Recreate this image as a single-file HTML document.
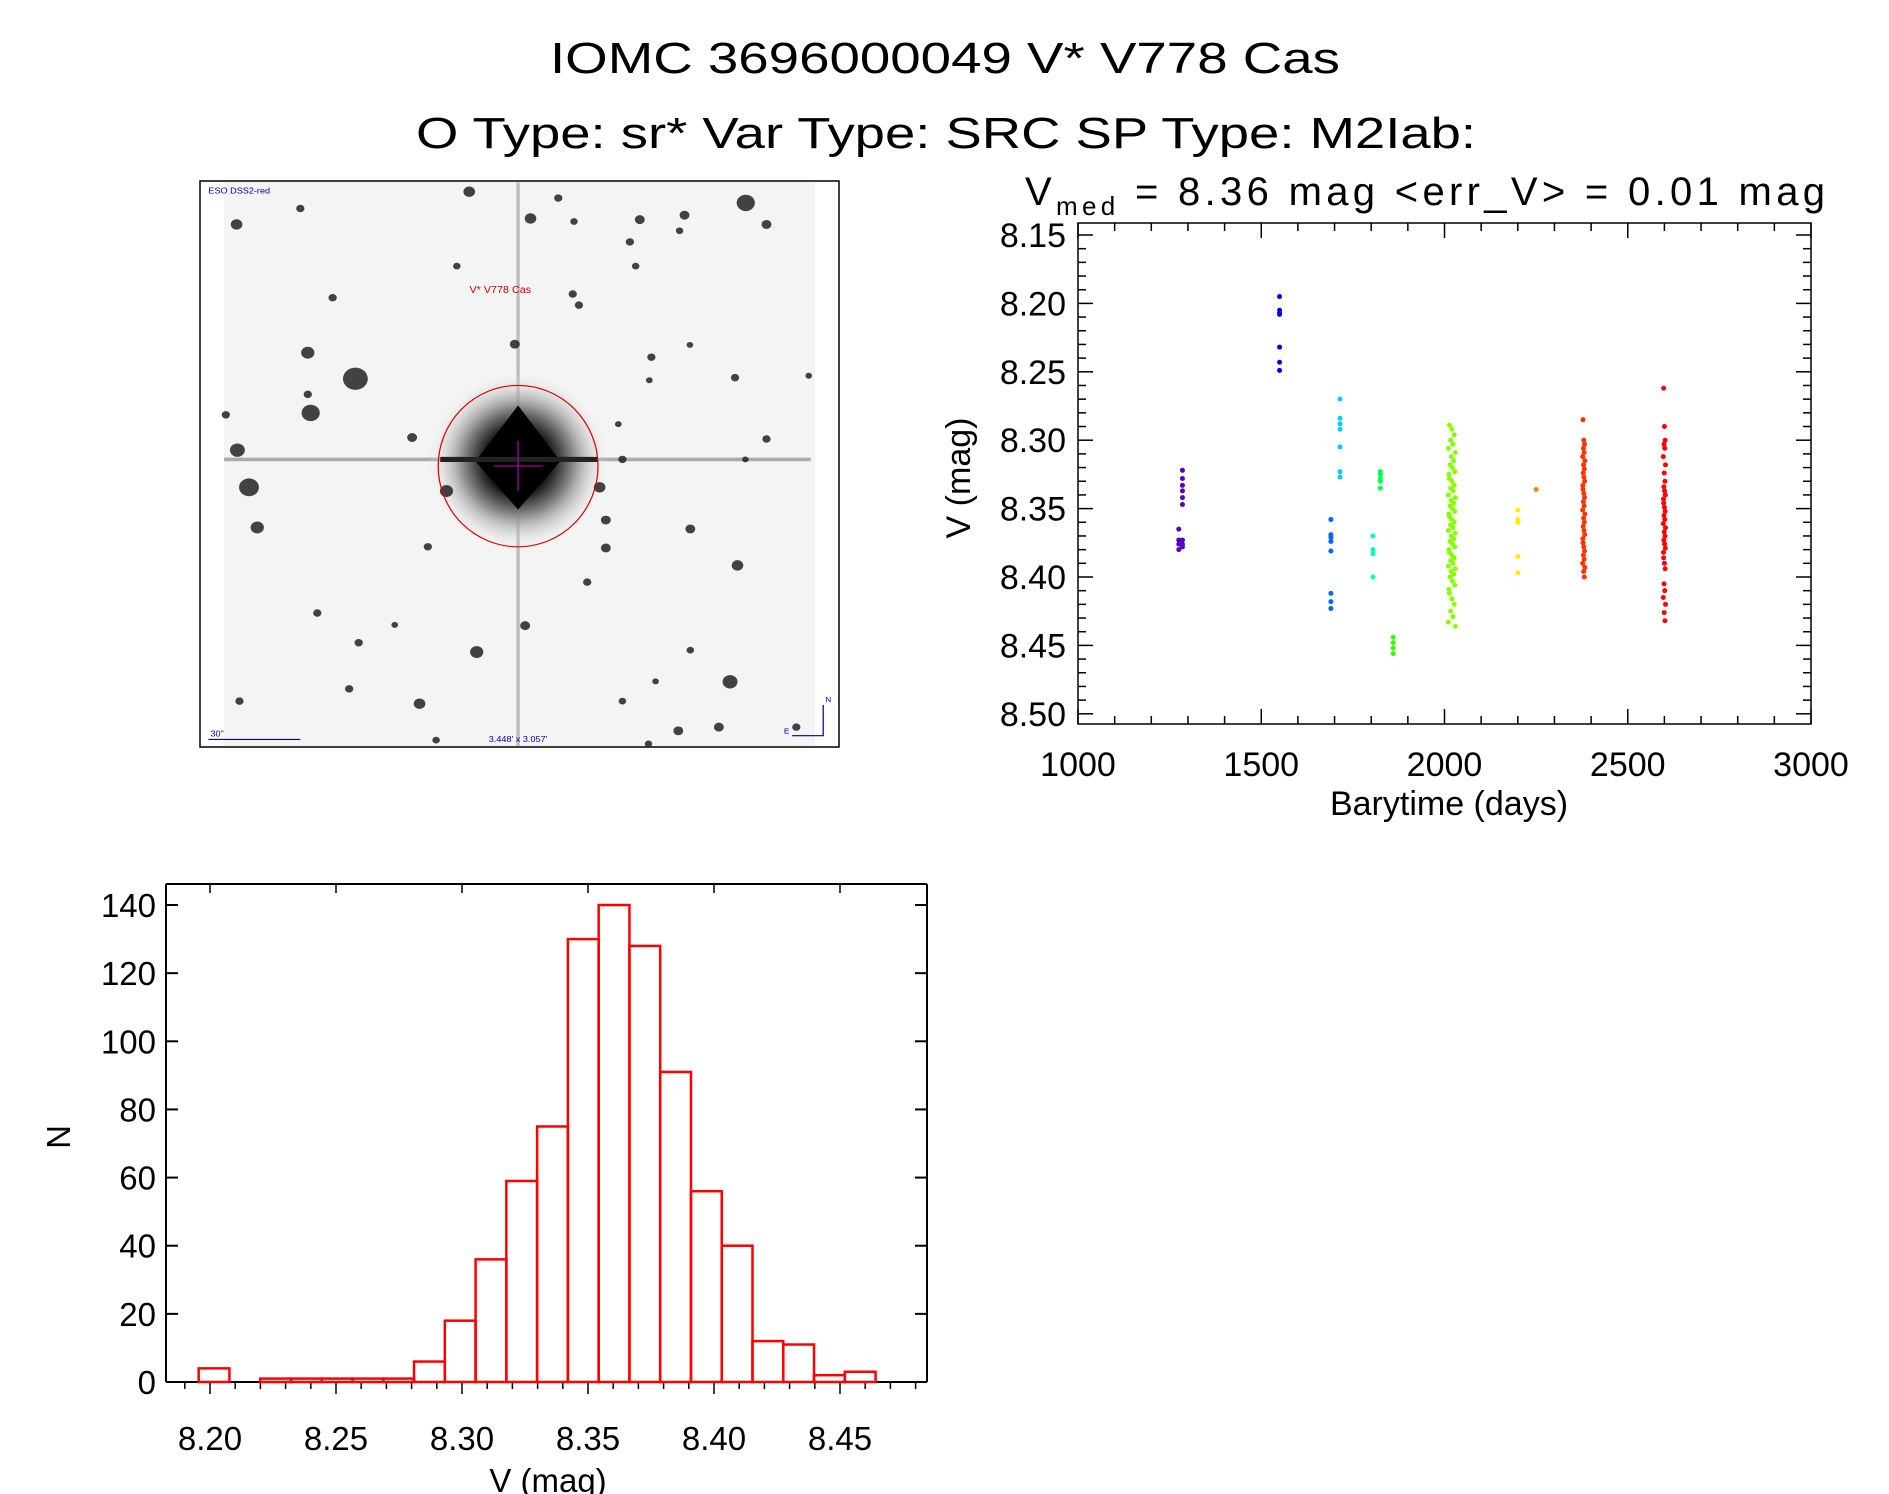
<!DOCTYPE html>
<html><head><meta charset="utf-8"><style>
html,body{margin:0;padding:0;background:#fff;}
svg{display:block;}
text{font-family:"Liberation Sans",sans-serif;fill:#000;}
</style></head><body>
<svg id="root" width="1889" height="1494" viewBox="0 0 1889 1494" xmlns="http://www.w3.org/2000/svg">
<text x="945" y="73" font-size="44" text-anchor="middle" textLength="790" lengthAdjust="spacingAndGlyphs">IOMC 3696000049    V* V778 Cas</text>
<text x="946" y="148" font-size="44" text-anchor="middle" textLength="1060" lengthAdjust="spacingAndGlyphs">O Type: sr*   Var Type: SRC   SP Type: M2Iab:</text>

<g id="img"></g>
<g id="lc"></g>
<g id="hist"></g>
</svg>
<script>
// ---------- Light curve data ----------
const lcGroupColors = ["#5500bb","#0000ff","#0066ff","#00ccff","#00ffbb","#00ff55","#33ff00","#88ff00","#ffee00","#ff8800","#ff3300","#ff0000"];
const lcGroupTimes = [1285,1550,1690,1715,1805,1825,1860,2020,2200,2250,2380,2600];
const lcGroupMags = [
 [8.365,8.373,8.376,8.380,8.322,8.328,8.333,8.337,8.342,8.347,8.373,8.376,8.378],
 [8.195,8.205,8.207,8.208,8.232,8.243,8.249],
 [8.358,8.369,8.371,8.374,8.381,8.412,8.418,8.423],
 [8.270,8.284,8.288,8.292,8.305,8.323,8.327],
 [8.370,8.380,8.383,8.400],
 [8.323,8.325,8.328,8.330,8.335],
 [8.444,8.448,8.452,8.456],
 [8.289,8.292,8.296,8.300,8.303,8.306,8.309,8.312,8.315,8.318,8.320,8.323,8.325,8.328,8.330,8.333,8.335,8.337,8.340,8.342,8.344,8.346,8.348,8.350,8.352,8.354,8.356,8.358,8.360,8.362,8.364,8.366,8.368,8.370,8.372,8.374,8.376,8.378,8.380,8.382,8.384,8.386,8.388,8.390,8.392,8.394,8.396,8.398,8.400,8.403,8.406,8.409,8.412,8.416,8.420,8.425,8.429,8.433,8.436],
 [8.351,8.358,8.360,8.385,8.397],
 [8.336],
 [8.285,8.300,8.303,8.306,8.309,8.312,8.315,8.318,8.321,8.324,8.327,8.330,8.333,8.336,8.339,8.342,8.345,8.348,8.351,8.354,8.357,8.360,8.363,8.366,8.369,8.372,8.375,8.378,8.381,8.384,8.387,8.390,8.393,8.396,8.400],
 [8.262,8.290,8.300,8.303,8.306,8.312,8.318,8.324,8.330,8.334,8.337,8.340,8.343,8.346,8.349,8.352,8.355,8.358,8.361,8.364,8.367,8.370,8.373,8.376,8.379,8.382,8.386,8.390,8.394,8.405,8.410,8.415,8.420,8.426,8.432]
];
const lcGroupJitter = [-4,0,4,-2,2,-6,6,-1,3,-3,1,5,-5];
const lcXTicks = [1000,1500,2000,2500,3000];
const lcYTicks = [8.15,8.20,8.25,8.30,8.35,8.40,8.45,8.50];

// ---------- Histogram data ----------
const histStart = 8.1955;
const histBinWidth = 0.01221;
const histCounts = [4,0,1,1,1,1,1,6,18,36,59,75,130,140,128,91,56,40,12,11,2,3];
const histXTicks = [8.20,8.25,8.30,8.35,8.40,8.45];
const histYTicks = [0,20,40,60,80,100,120,140];

const NS="http://www.w3.org/2000/svg";
function mk(tag, attrs, parent){const e=document.createElementNS(NS,tag);for(const k in attrs)e.setAttribute(k,attrs[k]);parent.appendChild(e);return e;}

// ===== Light curve =====
(function(){
 const g=document.getElementById('lc');
 const L=1078,R=1811,T=223,B=724;
 const x=t=>L+(t-1000)*(R-L)/2000;
 const y=m=>235+(m-8.15)*1368;
 const t1=mk('text',{x:1025,y:205,'font-size':40,textLength:800,lengthAdjust:'spacing'},g);
 
 
 t1.innerHTML='V<tspan font-size="26" dy="10">med</tspan><tspan dy="-10">  =  8.36  mag  &lt;err_V&gt;  =  0.01  mag</tspan>';
 const box=mk('rect',{x:L,y:T,width:R-L,height:B-T,fill:'none',stroke:'#000','stroke-width':1.5},g);
 
 
 for(let t=1000;t<=3000;t+=100){
  const len=(t%500===0)?15:8;
  mk('line',{x1:x(t),x2:x(t),y1:B,y2:B-len,stroke:'#000','stroke-width':1.5},g);
  mk('line',{x1:x(t),x2:x(t),y1:T,y2:T+len,stroke:'#000','stroke-width':1.5},g);
 }
 for(let i=0;i<=35;i++){
  const m=8.15+i*0.01;const len=(i%5===0)?15:8;
  mk('line',{x1:L,x2:L+len,y1:y(m),y2:y(m),stroke:'#000','stroke-width':1.5},g);
  mk('line',{x1:R,x2:R-len,y1:y(m),y2:y(m),stroke:'#000','stroke-width':1.5},g);
 }
 lcXTicks.forEach(t=>{const e=mk('text',{x:x(t),y:776,'font-size':34,'text-anchor':'middle'},g);e.textContent=t;
  
  });
 lcYTicks.forEach(m=>{const e=mk('text',{x:1066,y:y(m)+12,'font-size':34,'text-anchor':'end'},g);e.textContent=m.toFixed(2);
  
  });
 const xt=mk('text',{x:1449,y:815,'font-size':34,'text-anchor':'middle'},g);xt.textContent='Barytime (days)';
 
 
 const yt=mk('text',{x:0,y:0,'font-size':34,'text-anchor':'middle',transform:'translate(970,478) rotate(-90)'},g);yt.textContent='V (mag)';
 
 
 lcGroupMags.forEach((arr,gi)=>{
  arr.forEach((m,i)=>{
   const jit=(gi===7||gi>=10)?lcGroupJitter[i%lcGroupJitter.length]*(gi===7?1.6:0.5):0;
   const tt=lcGroupTimes[gi]+(gi===0&&i<4?-10:0)+jit;
   const c=mk('circle',{cx:x(tt),cy:y(m),r:2.5,fill:lcGroupColors[gi]},g);
   
   
  });
 });
})();

// ===== Histogram =====
(function(){
 const g=document.getElementById('hist');
 const L=166,R=927,T=884,B=1382;
 const x=v=>210+(v-8.20)*2520;
 const y=n=>B-n*3.407;
 mk('line',{x1:L,x2:R,y1:T,y2:T,stroke:'#000','stroke-width':2},g);
 mk('line',{x1:L,x2:L,y1:T,y2:B,stroke:'#000','stroke-width':2},g);
 mk('line',{x1:R,x2:R,y1:T,y2:B,stroke:'#000','stroke-width':2},g);
 mk('line',{x1:L,x2:R,y1:B,y2:B,stroke:'#000','stroke-width':2},g);
 for(let i=-1;i<=28;i++){
  const v=8.20+i*0.01;const xv=x(v);if(xv<L||xv>R)continue;
  const maj=(i%5===0);
  mk('line',{x1:xv,x2:xv,y1:B,y2:B+(maj?12:7),stroke:'#000','stroke-width':1.5},g);
  if(maj) mk('line',{x1:xv,x2:xv,y1:T,y2:T+9,stroke:'#000','stroke-width':1.5},g);
 }
 histYTicks.forEach(n=>{
  mk('line',{x1:L,x2:L+12,y1:y(n),y2:y(n),stroke:'#000','stroke-width':2},g);
  mk('line',{x1:R,x2:R-12,y1:y(n),y2:y(n),stroke:'#000','stroke-width':2},g);
  const e=mk('text',{x:156,y:y(n)+12,'font-size':33,'text-anchor':'end'},g);e.textContent=n;
  
  
 });
 histXTicks.forEach(v=>{const e=mk('text',{x:x(v),y:1450,'font-size':33,'text-anchor':'middle'},g);e.textContent=v.toFixed(2);
  
  });
 const xt=mk('text',{x:548,y:1492,'font-size':33,'text-anchor':'middle'},g);xt.textContent='V (mag)';
 
 
 const yt=mk('text',{x:0,y:0,'font-size':33,'text-anchor':'middle',transform:'translate(70,1137) rotate(-90)'},g);yt.textContent='N';
 
 
 histCounts.forEach((n,i)=>{
  const x0=x(histStart+i*histBinWidth),x1=x(histStart+(i+1)*histBinWidth);
  if(n<=0)return;
  const r=mk('rect',{x:x0,y:y(n),width:x1-x0,height:B-y(n),fill:'none',stroke:'#ff0000','stroke-width':2.5},g);
  
  
 });
})();

// ===== Sky image =====
(function(){
 const g0=document.getElementById('img');
 mk('rect',{x:200,y:181,width:639,height:566,fill:'#fff',stroke:'#000','stroke-width':1.5},g0);
 mk('rect',{x:224,y:182,width:591,height:564,fill:'#f4f4f4'},g0);
 const g=mk('g',{transform:'translate(196,175) scale(0.414,0.3718)'},g0);
 const defs=mk('defs',{},g);
 const rg=mk('radialGradient',{id:'halo'},defs);
 mk('stop',{offset:'0','stop-color':'#000'},rg);
 mk('stop',{offset:'0.35','stop-color':'#111'},rg);
 mk('stop',{offset:'0.6','stop-color':'#888'},rg);
 mk('stop',{offset:'1','stop-color':'#f4f4f4','stop-opacity':0},rg);
 mk('line',{x1:68,x2:1485,y1:765,y2:765,stroke:'#aaa','stroke-width':10},g);
 mk('line',{x1:778,x2:778,y1:20,y2:1535,stroke:'#bbb','stroke-width':8},g);
 mk('ellipse',{cx:778,cy:770,rx:220,ry:240,fill:'url(#halo)'},g);
 mk('polygon',{points:'778,620 880,770 778,900 675,770',fill:'#000'},g);
 mk('line',{x1:590,x2:970,y1:765,y2:765,stroke:'#222','stroke-width':14},g);
 const stars=[[660,45,14],[875,62,10],[1328,75,22],[98,133,14],[252,90,10],[808,117,14],[913,125,9],[1072,120,12],[1180,108,12],[1378,133,12],[1048,180,10],[1168,150,9],[630,245,9],[1062,245,9],[330,330,10],[910,320,10],[925,350,10],[770,455,12],[270,478,16],[385,548,30],[270,590,10],[277,640,22],[72,645,10],[1100,490,10],[1193,457,8],[1302,545,10],[1095,552,8],[1480,540,8],[522,706,12],[1020,670,8],[1378,710,10],[100,740,18],[1030,765,10],[1327,765,8],[128,840,24],[605,850,16],[975,840,14],[148,948,16],[990,928,12],[1194,952,12],[560,1000,10],[990,1003,12],[1308,1050,14],[945,1095,10],[293,1178,10],[795,1212,12],[393,1258,10],[678,1283,16],[1194,1278,9],[1290,1363,18],[370,1382,10],[105,1415,10],[540,1422,14],[1030,1415,9],[1165,1495,12],[1263,1485,12],[1450,1485,10],[580,1520,9],[1093,1530,9],[480,1210,8],[1110,1362,8]];
 stars.forEach(s=>{const c=mk('circle',{cx:s[0],cy:s[1],r:s[2],fill:'#222','fill-opacity':0.85},g);
  
  });
 mk('ellipse',{cx:778,cy:783,rx:193,ry:217,fill:'none',stroke:'#d00','stroke-width':3},g);
 mk('line',{x1:720,x2:838,y1:783,y2:783,stroke:'#a0a',"stroke-width":3},g);
 mk('line',{x1:778,x2:778,y1:715,y2:850,stroke:'#a0a',"stroke-width":3},g);
 const lbl=mk('text',{x:735,y:318,'font-size':26,fill:'#c00','text-anchor':'middle',style:'fill:#c00'},g);lbl.textContent='V* V778 Cas';
 const l2=mk('text',{x:30,y:50,'font-size':22,style:'fill:#00a'},g);l2.textContent='ESO DSS2-red';
 const l3=mk('text',{x:35,y:1510,'font-size':22,style:'fill:#00a'},g);l3.textContent='30"';
 mk('line',{x1:30,x2:252,y1:1518,y2:1518,stroke:'#00a','stroke-width':3},g);
 const l4=mk('text',{x:778,y:1525,'font-size':22,'text-anchor':'middle',style:'fill:#00a'},g);l4.textContent="3.448' x 3.057'";
 mk('polyline',{points:'1515,1425 1515,1508 1440,1508',fill:'none',stroke:'#00a','stroke-width':3},g);
 const n=mk('text',{x:1520,y:1418,'font-size':20,style:'fill:#00a'},g);n.textContent='N';
 const e=mk('text',{x:1420,y:1502,'font-size':20,style:'fill:#00a'},g);e.textContent='E';
})();
</script>
</body></html>
